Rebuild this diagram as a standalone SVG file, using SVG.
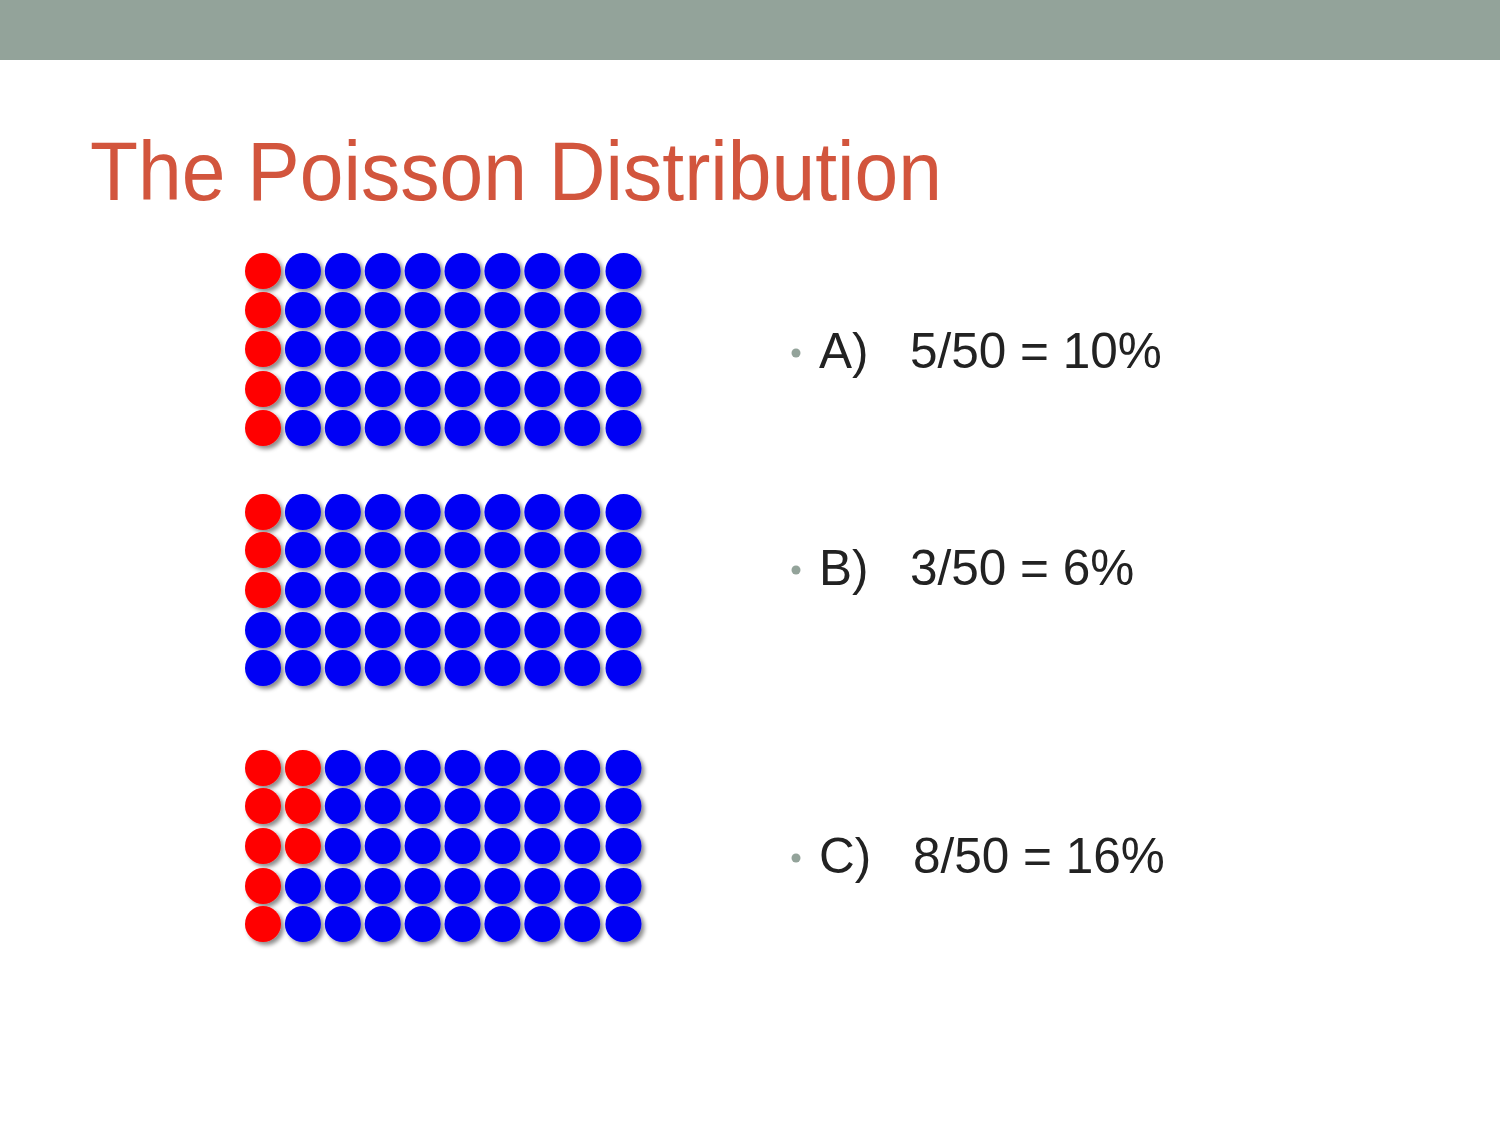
<svg xmlns="http://www.w3.org/2000/svg" xmlns:xlink="http://www.w3.org/1999/xlink" width="1500" height="1125" viewBox="0 0 1500 1125">
<defs>
<style>
.title{font-family:"Liberation Sans",Arial,sans-serif;font-size:84px;fill:#d2553d}
.item{font-family:"Liberation Sans",Arial,sans-serif;font-size:49.5px;fill:#222222}
.bullet{fill:#93a39a}
.r{fill:#ff0000}
.b{fill:#0000f5}
</style>
<filter id="sh" x="-30%" y="-30%" width="170%" height="170%">
<feDropShadow dx="3" dy="3" stdDeviation="2" flood-color="#000" flood-opacity="0.45"/>
</filter>
<circle id="R" r="18" class="r"/>
<circle id="B" r="18" class="b"/>
</defs>
<rect width="1500" height="1125" fill="#ffffff"/>
<rect x="0" y="0" width="1500" height="60" fill="#93a39a"/>
<text class="title" x="90" y="200" textLength="852" lengthAdjust="spacingAndGlyphs">The Poisson Distribution</text>

<g id="gridA" filter="url(#sh)">
<g transform="translate(263,271)"><use xlink:href="#R" x="0"/><use xlink:href="#B" x="39.9"/><use xlink:href="#B" x="79.8"/><use xlink:href="#B" x="119.7"/><use xlink:href="#B" x="159.6"/><use xlink:href="#B" x="199.5"/><use xlink:href="#B" x="239.4"/><use xlink:href="#B" x="279.3"/><use xlink:href="#B" x="319.2"/><use xlink:href="#B" x="360.5"/></g>
<g transform="translate(263,310)"><use xlink:href="#R" x="0"/><use xlink:href="#B" x="39.9"/><use xlink:href="#B" x="79.8"/><use xlink:href="#B" x="119.7"/><use xlink:href="#B" x="159.6"/><use xlink:href="#B" x="199.5"/><use xlink:href="#B" x="239.4"/><use xlink:href="#B" x="279.3"/><use xlink:href="#B" x="319.2"/><use xlink:href="#B" x="360.5"/></g>
<g transform="translate(263,349)"><use xlink:href="#R" x="0"/><use xlink:href="#B" x="39.9"/><use xlink:href="#B" x="79.8"/><use xlink:href="#B" x="119.7"/><use xlink:href="#B" x="159.6"/><use xlink:href="#B" x="199.5"/><use xlink:href="#B" x="239.4"/><use xlink:href="#B" x="279.3"/><use xlink:href="#B" x="319.2"/><use xlink:href="#B" x="360.5"/></g>
<g transform="translate(263,389)"><use xlink:href="#R" x="0"/><use xlink:href="#B" x="39.9"/><use xlink:href="#B" x="79.8"/><use xlink:href="#B" x="119.7"/><use xlink:href="#B" x="159.6"/><use xlink:href="#B" x="199.5"/><use xlink:href="#B" x="239.4"/><use xlink:href="#B" x="279.3"/><use xlink:href="#B" x="319.2"/><use xlink:href="#B" x="360.5"/></g>
<g transform="translate(263,428)"><use xlink:href="#R" x="0"/><use xlink:href="#B" x="39.9"/><use xlink:href="#B" x="79.8"/><use xlink:href="#B" x="119.7"/><use xlink:href="#B" x="159.6"/><use xlink:href="#B" x="199.5"/><use xlink:href="#B" x="239.4"/><use xlink:href="#B" x="279.3"/><use xlink:href="#B" x="319.2"/><use xlink:href="#B" x="360.5"/></g>
</g>

<g id="gridB" filter="url(#sh)">
<g transform="translate(263,512)"><use xlink:href="#R" x="0"/><use xlink:href="#B" x="39.9"/><use xlink:href="#B" x="79.8"/><use xlink:href="#B" x="119.7"/><use xlink:href="#B" x="159.6"/><use xlink:href="#B" x="199.5"/><use xlink:href="#B" x="239.4"/><use xlink:href="#B" x="279.3"/><use xlink:href="#B" x="319.2"/><use xlink:href="#B" x="360.5"/></g>
<g transform="translate(263,550)"><use xlink:href="#R" x="0"/><use xlink:href="#B" x="39.9"/><use xlink:href="#B" x="79.8"/><use xlink:href="#B" x="119.7"/><use xlink:href="#B" x="159.6"/><use xlink:href="#B" x="199.5"/><use xlink:href="#B" x="239.4"/><use xlink:href="#B" x="279.3"/><use xlink:href="#B" x="319.2"/><use xlink:href="#B" x="360.5"/></g>
<g transform="translate(263,590)"><use xlink:href="#R" x="0"/><use xlink:href="#B" x="39.9"/><use xlink:href="#B" x="79.8"/><use xlink:href="#B" x="119.7"/><use xlink:href="#B" x="159.6"/><use xlink:href="#B" x="199.5"/><use xlink:href="#B" x="239.4"/><use xlink:href="#B" x="279.3"/><use xlink:href="#B" x="319.2"/><use xlink:href="#B" x="360.5"/></g>
<g transform="translate(263,630)"><use xlink:href="#B" x="0"/><use xlink:href="#B" x="39.9"/><use xlink:href="#B" x="79.8"/><use xlink:href="#B" x="119.7"/><use xlink:href="#B" x="159.6"/><use xlink:href="#B" x="199.5"/><use xlink:href="#B" x="239.4"/><use xlink:href="#B" x="279.3"/><use xlink:href="#B" x="319.2"/><use xlink:href="#B" x="360.5"/></g>
<g transform="translate(263,668)"><use xlink:href="#B" x="0"/><use xlink:href="#B" x="39.9"/><use xlink:href="#B" x="79.8"/><use xlink:href="#B" x="119.7"/><use xlink:href="#B" x="159.6"/><use xlink:href="#B" x="199.5"/><use xlink:href="#B" x="239.4"/><use xlink:href="#B" x="279.3"/><use xlink:href="#B" x="319.2"/><use xlink:href="#B" x="360.5"/></g>
</g>

<g id="gridC" filter="url(#sh)">
<g transform="translate(263,768)"><use xlink:href="#R" x="0"/><use xlink:href="#R" x="39.9"/><use xlink:href="#B" x="79.8"/><use xlink:href="#B" x="119.7"/><use xlink:href="#B" x="159.6"/><use xlink:href="#B" x="199.5"/><use xlink:href="#B" x="239.4"/><use xlink:href="#B" x="279.3"/><use xlink:href="#B" x="319.2"/><use xlink:href="#B" x="360.5"/></g>
<g transform="translate(263,806)"><use xlink:href="#R" x="0"/><use xlink:href="#R" x="39.9"/><use xlink:href="#B" x="79.8"/><use xlink:href="#B" x="119.7"/><use xlink:href="#B" x="159.6"/><use xlink:href="#B" x="199.5"/><use xlink:href="#B" x="239.4"/><use xlink:href="#B" x="279.3"/><use xlink:href="#B" x="319.2"/><use xlink:href="#B" x="360.5"/></g>
<g transform="translate(263,846)"><use xlink:href="#R" x="0"/><use xlink:href="#R" x="39.9"/><use xlink:href="#B" x="79.8"/><use xlink:href="#B" x="119.7"/><use xlink:href="#B" x="159.6"/><use xlink:href="#B" x="199.5"/><use xlink:href="#B" x="239.4"/><use xlink:href="#B" x="279.3"/><use xlink:href="#B" x="319.2"/><use xlink:href="#B" x="360.5"/></g>
<g transform="translate(263,886)"><use xlink:href="#R" x="0"/><use xlink:href="#B" x="39.9"/><use xlink:href="#B" x="79.8"/><use xlink:href="#B" x="119.7"/><use xlink:href="#B" x="159.6"/><use xlink:href="#B" x="199.5"/><use xlink:href="#B" x="239.4"/><use xlink:href="#B" x="279.3"/><use xlink:href="#B" x="319.2"/><use xlink:href="#B" x="360.5"/></g>
<g transform="translate(263,924)"><use xlink:href="#R" x="0"/><use xlink:href="#B" x="39.9"/><use xlink:href="#B" x="79.8"/><use xlink:href="#B" x="119.7"/><use xlink:href="#B" x="159.6"/><use xlink:href="#B" x="199.5"/><use xlink:href="#B" x="239.4"/><use xlink:href="#B" x="279.3"/><use xlink:href="#B" x="319.2"/><use xlink:href="#B" x="360.5"/></g>
</g>

<g id="itemA">
<circle class="bullet" cx="796" cy="353" r="4.5"/>
<text class="item" y="368"><tspan x="819">A)</tspan><tspan x="910">5/50 = 10%</tspan></text>
</g>
<g id="itemB">
<circle class="bullet" cx="796" cy="570" r="4.5"/>
<text class="item" y="585"><tspan x="819">B)</tspan><tspan x="910">3/50 = 6%</tspan></text>
</g>
<g id="itemC">
<circle class="bullet" cx="796" cy="858" r="4.5"/>
<text class="item" y="873"><tspan x="819">C)</tspan><tspan x="913">8/50 = 16%</tspan></text>
</g>
</svg>
